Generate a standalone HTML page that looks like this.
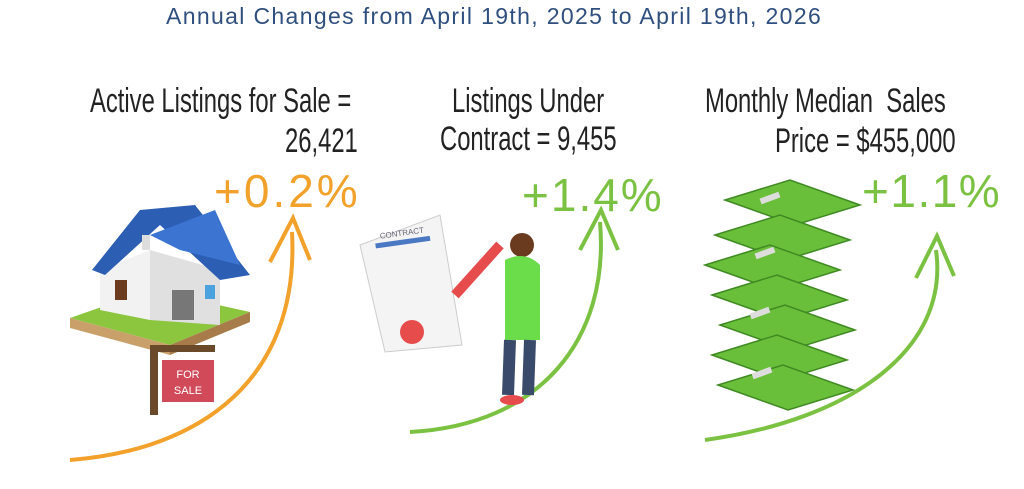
<!DOCTYPE html>
<html><head><meta charset="utf-8"><style>
html,body{margin:0;padding:0;background:#fff;}
body{width:1024px;height:489px;overflow:hidden;position:relative;font-family:"Liberation Sans",sans-serif;}
.t{position:absolute;white-space:nowrap;}
.h{font-family:"Liberation Sans Narrow","Liberation Sans",sans-serif;color:#222;font-size:34px;font-weight:400;transform:scaleX(0.7);transform-origin:left top;}
.p{font-size:46px;font-weight:300;letter-spacing:1.5px;}
</style></head><body>
<div class="t" style="left:166px;top:3px;font-size:23px;color:#2f4f7f;letter-spacing:1.35px;">Annual Changes from April 19th, 2025 to April 19th, 2026</div>
<div class="t h" style="left:90px;top:82px;">Active Listings for Sale =</div>
<div class="t h" style="left:285px;top:122px;">26,421</div>
<div class="t h" style="left:452px;top:82px;">Listings Under</div>
<div class="t h" style="left:440px;top:120px;">Contract = 9,455</div>
<div class="t h" style="left:705px;top:82px;">Monthly Median&nbsp; Sales</div>
<div class="t h" style="left:775px;top:122px;">Price = $455,000</div>
<div class="t p" style="left:214px;top:164px;color:#f2a22a;letter-spacing:3px;">+0.2%</div>
<div class="t p" style="left:522px;top:168px;color:#7cc242;letter-spacing:2px;">+1.4%</div>
<div class="t p" style="left:862px;top:164px;color:#7cc242;">+1.1%</div>
<svg width="1024" height="489" style="position:absolute;left:0;top:0">
<path d="M70 460 C200 450 300 380 292 232" fill="none" stroke="#f2a22a" stroke-width="4"/>
<path d="M270 262 L293 218 L310 260" fill="none" stroke="#f2a22a" stroke-width="4"/>
<path d="M410 432 C540 425 610 340 600 222" fill="none" stroke="#7cc242" stroke-width="4"/>
<path d="M580 250 L601 210 L618 250" fill="none" stroke="#7cc242" stroke-width="4"/>
<path d="M705 440 C850 420 950 350 936 250" fill="none" stroke="#7cc242" stroke-width="4"/>
<path d="M916 278 L937 236 L954 276" fill="none" stroke="#7cc242" stroke-width="4"/>
<polygon points="70,318 150,290 250,312 170,345" fill="#8cc63f"/>
<polygon points="70,318 170,345 170,355 70,328" fill="#c9a06a"/>
<polygon points="170,345 250,312 250,322 170,355" fill="#a87c4a"/>
<polygon points="100,270 150,250 150,320 100,310" fill="#f2f2f2"/>
<polygon points="150,250 220,270 220,325 150,320" fill="#e0e0e0"/>
<polygon points="92,270 140,210 195,205 250,275 220,280 160,225 105,275" fill="#2c5fb3"/>
<polygon points="150,235 215,210 240,265 180,250" fill="#3b74d1"/>
<rect x="142" y="235" width="8" height="15" fill="#ddd"/>
<rect x="172" y="290" width="22" height="30" fill="#777"/>
<rect x="115" y="280" width="12" height="20" fill="#6b3b1f"/>
<rect x="205" y="285" width="10" height="14" fill="#4aa3df"/>
<rect x="150" y="345" width="8" height="70" fill="#6b4a2a"/>
<rect x="150" y="345" width="65" height="7" fill="#6b4a2a"/>
<rect x="162" y="360" width="52" height="42" fill="#d14a5a"/>
<text x="188" y="378" font-size="11" fill="#fff" text-anchor="middle" font-family="Liberation Sans">FOR</text>
<text x="188" y="394" font-size="11" fill="#fff" text-anchor="middle" font-family="Liberation Sans">SALE</text>
<polygon points="360,245 440,215 462,345 385,352" fill="#f4f4f4" stroke="#ccc"/>
<rect x="375" y="240" width="55" height="5" fill="#4a78c2" transform="rotate(-8 400 240)"/>
<text x="380" y="236" font-size="8" fill="#667" font-family="Liberation Sans" transform="rotate(-8 400 236)">CONTRACT</text>
<circle cx="412" cy="332" r="12" fill="#e74c4c"/>
<path d="M455 295 L500 245" stroke="#e74c4c" stroke-width="10"/>
<circle cx="522" cy="245" r="12" fill="#6b3b1f"/>
<path d="M505 260 Q525 250 540 265 L540 340 L505 340 Z" fill="#6bdc4a"/>
<path d="M510 340 L508 395 M530 340 L528 395" stroke="#3a4a6a" stroke-width="12"/>
<ellipse cx="512" cy="400" rx="12" ry="5" fill="#e74c4c"/>
<g fill="#6abf3a" stroke="#3f8a22" stroke-width="1.5">
<polygon points="725,200 790,180 860,205 795,225"/>
<polygon points="715,235 780,215 850,240 785,260"/>
<polygon points="705,265 770,245 840,270 775,290"/>
<polygon points="712,295 777,275 847,300 782,320"/>
<polygon points="720,325 785,305 855,330 790,350"/>
<polygon points="712,355 777,335 847,360 782,380"/>
<polygon points="718,385 783,365 853,390 788,410"/>
</g>
<g fill="#ddd"><rect x="760" y="195" width="20" height="6" transform="rotate(-20 770 198)"/><rect x="755" y="250" width="20" height="6" transform="rotate(-20 765 253)"/><rect x="750" y="310" width="20" height="6" transform="rotate(-20 760 313)"/><rect x="752" y="370" width="20" height="6" transform="rotate(-20 762 373)"/></g>
</svg>
</body></html>
